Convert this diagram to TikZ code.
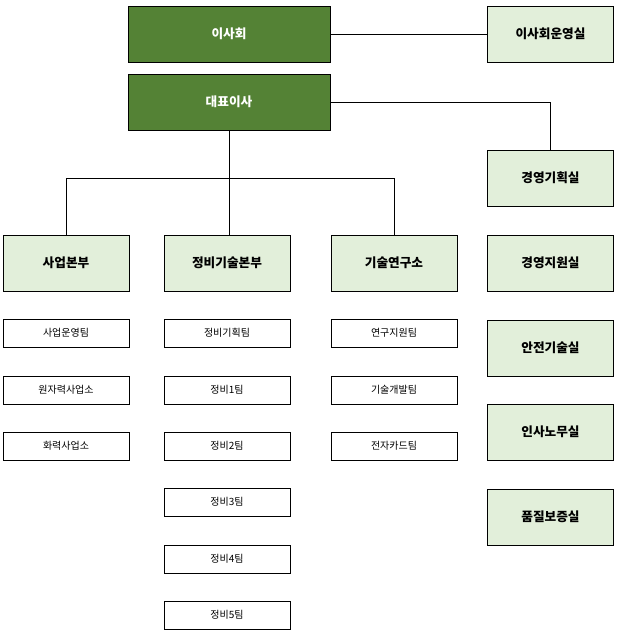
\documentclass[tikz,border=0pt]{standalone}
\usepackage{fontspec}
\setmainfont{Noto Sans CJK KR}
\usetikzlibrary{positioning}
\definecolor{my_darkgreen}{RGB}{84, 130, 53}
\definecolor{my_lightgreen}{RGB}{226, 239, 218}
\tikzset {
  top/.style = {draw, fill=my_darkgreen, text=white, font=\fontsize{9.5}{11}\selectfont\bfseries, minimum width=151.5pt, minimum height=42pt, inner sep=0pt},
  dept/.style = {draw, fill=my_lightgreen, font=\fontsize{9.5}{11}\selectfont\bfseries, minimum width=94.5pt, minimum height=42pt, inner sep=0pt},
  team/.style = {draw, fill=white, font=\fontsize{7.5}{9}\selectfont, minimum width=94.5pt, minimum height=21pt, inner sep=0pt},
  line/.style = {draw, thin, color=black}
}
\begin{document}
\begin{tikzpicture}[x=0.75pt, y=-0.75pt]
    \useasboundingbox (0,0) rectangle (617,631);
    \node[top] (board) at (229,34) {이사회};
    \node[top] (ceo) at (229,102) {대표이사};
    \node[dept] (boardoffice) at (550.5,34) {이사회운영실};
    \node[dept] (plan) at (550.5,178) {경영기획실};
    \node[dept] (support) at (550.5,263) {경영지원실};
    \node[dept] (safety) at (550.5,348) {안전기술실};
    \node[dept] (hr) at (550.5,432) {인사노무실};
    \node[dept] (quality) at (550.5,517) {품질보증실};

    \node[dept] (biz) at (66,263) {사업본부};
    \node[dept] (maint) at (227,263) {정비기술본부};
    \node[dept] (lab) at (394,263) {기술연구소};

    \node[team] (biz1) at (66,333) {사업운영팀};
    \node[team] (biz2) at (66,390) {원자력사업소};
    \node[team] (biz3) at (66,446) {화력사업소};

    \node[team] (mt0) at (227,333) {정비기획팀};
    \foreach \i/\y in {1/390, 2/446, 3/502, 4/559, 5/615}
      \node[team] (mt\i) at (227,\y) {정비\i{}팀};

    \node[team] (lab1) at (394,333) {연구지원팀};
    \node[team] (lab2) at (394,390) {기술개발팀};
    \node[team] (lab3) at (394,446) {전자카드팀};

    \draw[line] (board.east) -- (boardoffice.west);
    \draw[line] (ceo.east) -| (plan.north);
    \coordinate (split) at (229,178);
    \draw[line] (ceo.south) -- (split);
    \draw[line] (split) -| (biz.north);
    \draw[line] (split) -| (lab.north);
    \draw[line] (split) -- (split |- maint.north);
\end{tikzpicture}
\end{document}
